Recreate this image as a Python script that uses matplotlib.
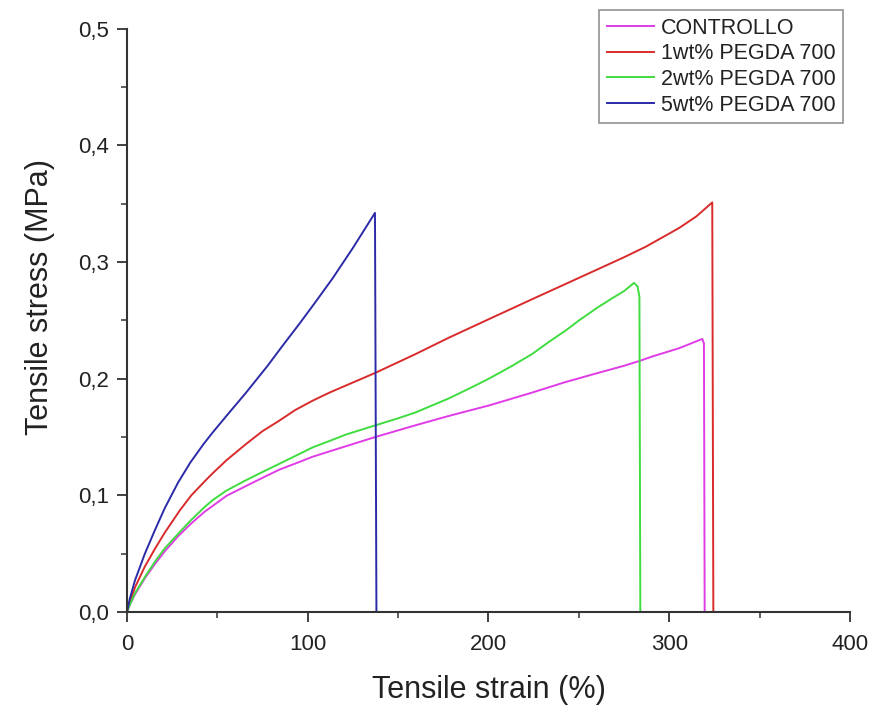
import matplotlib
matplotlib.use("Agg")
import matplotlib.pyplot as plt
from matplotlib.ticker import MultipleLocator, FuncFormatter

plt.rcParams['font.family'] = ['Liberation Sans', 'DejaVu Sans']

# CONTROLLO
ctrl_x = [0, 1.5, 4.4, 9.9, 15.4, 20.9, 28.3, 35.6, 43, 47.5, 55, 65.9, 77.6, 84.3,
          96.1, 102.6, 112.8, 121, 137.5, 159.6, 178, 200.3, 224.1, 242.5, 260.9,
          275, 283.3, 290.7, 305.4, 318.3, 319.2, 319.6]
ctrl_y = [0, 0.006, 0.015, 0.029, 0.041, 0.052, 0.065, 0.076, 0.086, 0.091, 0.0995,
          0.108, 0.117, 0.122, 0.129, 0.133, 0.138, 0.142, 0.150, 0.160, 0.168,
          0.177, 0.188, 0.197, 0.205, 0.211, 0.215, 0.219, 0.226, 0.234, 0.230, 0.0]

# 1wt% PEGDA 700
p1_x = [0, 1.5, 4.4, 9.9, 15.4, 20.9, 29.2, 35.6, 43, 47.5, 55, 65.9, 75, 84.3, 93,
        102.6, 112, 121, 137.5, 159.6, 178, 200.3, 224.1, 242.5, 260.9, 275, 287,
        305.4, 315, 323.8, 324.4]
p1_y = [0, 0.008, 0.021, 0.039, 0.054, 0.068, 0.087, 0.100, 0.112, 0.119, 0.130,
        0.144, 0.155, 0.164, 0.173, 0.181, 0.188, 0.194, 0.205, 0.221, 0.235,
        0.251, 0.268, 0.281, 0.294, 0.304, 0.313, 0.329, 0.339, 0.351, 0.0]

# 2wt% PEGDA 700
p2_x = [0, 1.5, 4.4, 9.9, 15.4, 20.9, 28.3, 35.6, 43, 47.5, 55, 65.9, 77.6, 84.3,
        96.1, 102.6, 112.8, 121, 137.5, 150, 159.6, 178, 190, 200.3, 212, 224.1,
        233, 242.5, 250.2, 260.9, 268.6, 275, 280.5, 282.5, 283.5, 284]
p2_y = [0, 0.006, 0.016, 0.030, 0.043, 0.0545, 0.067, 0.079, 0.090, 0.096, 0.104,
        0.113, 0.122, 0.127, 0.136, 0.141, 0.147, 0.152, 0.160, 0.166, 0.171,
        0.183, 0.192, 0.200, 0.210, 0.221, 0.231, 0.241, 0.250, 0.2615, 0.269,
        0.275, 0.282, 0.279, 0.270, 0.0]

# 5wt% PEGDA 700
p5_x = [0, 1.5, 4.4, 9.9, 15.4, 20.9, 28.3, 35, 42.4, 47.5, 55, 65.9, 77.8, 86,
        95.4, 104, 113.8, 125, 137.2, 138]
p5_y = [0, 0.011, 0.027, 0.050, 0.070, 0.089, 0.111, 0.128, 0.144, 0.154, 0.168,
        0.188, 0.211, 0.228, 0.247, 0.265, 0.286, 0.312, 0.342, 0.0]

labels = ["CONTROLLO", "1wt% PEGDA 700", "2wt% PEGDA 700", "5wt% PEGDA 700"]
colors = ["#e03ce6", "#d92b2b", "#40dc40", "#2b2ba8"]

fig = plt.figure(figsize=(8.8, 7.09), dpi=100)
ax = fig.add_axes([0.1443, 0.1368, 0.8216, 0.823])

for xs, ys, lab, c in zip([ctrl_x, p1_x, p2_x, p5_x],
                          [ctrl_y, p1_y, p2_y, p5_y], labels, colors):
    ax.plot(xs, ys, color=c, lw=1.4, label=lab)

ax.set_xlim(0, 400)
ax.set_ylim(0, 0.5)
ax.xaxis.set_major_locator(MultipleLocator(100))
ax.xaxis.set_minor_locator(MultipleLocator(50))
ax.yaxis.set_major_locator(MultipleLocator(0.1))
ax.yaxis.set_minor_locator(MultipleLocator(0.05))
ax.yaxis.set_major_formatter(FuncFormatter(lambda v, p: f"{v:.1f}".replace(".", ",")))

for s in ["top", "right"]:
    ax.spines[s].set_visible(False)
for s in ["left", "bottom"]:
    ax.spines[s].set_linewidth(1.5)
    ax.spines[s].set_color("#333333")

ax.tick_params(which="major", direction="out", length=7, width=1.3,
               color="#333333", labelsize=16, labelcolor="#222222")
ax.tick_params(axis="x", which="major", pad=9)
ax.tick_params(axis="y", which="major", pad=6)
ax.tick_params(which="minor", direction="out", length=4, width=1.1, color="#333333")

ax.set_xlabel("Tensile strain (%)", fontsize=22, color="#222222", labelpad=14)
ax.set_ylabel("Tensile stress (MPa)", fontsize=22, color="#222222")
ax.yaxis.set_label_coords(-0.1, 0.54)

leg = ax.legend(loc="upper right", bbox_to_anchor=(843 / 880, 1 - 10 / 709),
                bbox_transform=fig.transFigure, borderaxespad=0, fontsize=15.5,
                frameon=True, fancybox=False, edgecolor="#777777",
                labelspacing=0.22, handlelength=2.2, handletextpad=0.3,
                borderpad=0.35)
leg.get_frame().set_linewidth(1.2)
for t in leg.get_texts():
    t.set_color("#222222")

fig.savefig("out.png", dpi=100)
